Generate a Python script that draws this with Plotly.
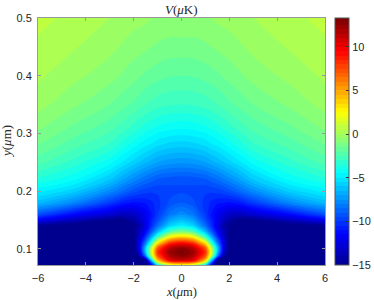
import plotly.graph_objects as go

# grid coordinates (micrometres)
x_um = [-6, -4.5, -3, -2.5, -2, -1.75, -1.5, -1.25, -1, -0.5, 0, 0.5, 1, 1.25, 1.5, 1.75, 2, 2.5, 3, 4.5, 6]
y_um = [0.072, 0.08, 0.088, 0.095, 0.102, 0.11, 0.12, 0.13, 0.14, 0.15, 0.16,
        0.18, 0.2, 0.22, 0.25, 0.28, 0.31, 0.35, 0.4, 0.45, 0.5]

# potential V (uK), one row per y value
V_y0072 = [-18, -18, -18, -18, -18, -17, -16.5, -12, -5, 1, 2, 1, -5, -12, -16.5, -17, -18, -18, -18, -18, -18]
V_y0080 = [-18, -18, -18, -17.5, -17, -16.5, -15, -6, 4, 10, 11, 10, 4, -6, -15, -16.5, -17, -17.5, -18, -18, -18]
V_y0088 = [-18, -18, -17.5, -17, -16, -14, -8, 0.5, 7.5, 11.7, 12.8, 11.7, 7.5, 0.5, -8, -14, -16, -17, -17.5, -18, -18]
V_y0095 = [-18, -18, -17.5, -16.8, -16, -12.5, -6, 1.5, 8.3, 12.2, 13.3, 12.2, 8.3, 1.5, -6, -12.5, -16, -16.8, -17.5, -18, -18]
V_y0102 = [-18, -18, -17.5, -16.6, -15.5, -12, -6, 0.5, 7, 11.3, 12.5, 11.3, 7, 0.5, -6, -12, -15.5, -16.6, -17.5, -18, -18]
V_y0110 = [-18, -18, -17.5, -16.5, -15.2, -12.2, -8, -3, 3, 8.2, 9.5, 8.2, 3, -3, -8, -12.2, -15.2, -16.5, -17.5, -18, -18]
V_y0120 = [-18, -18, -17.5, -16.5, -15.1, -13, -10, -6.5, -2.5, 2.8, 4.0, 2.8, -2.5, -6.5, -10, -13, -15.1, -16.5, -17.5, -18, -18]
V_y0130 = [-17, -17, -17, -16.5, -15.0, -13.5, -11.5, -9, -6.5, -2.5, -1.3, -2.5, -6.5, -9, -11.5, -13.5, -15.0, -16.5, -17, -17, -17]
V_y0140 = [-15.0, -15.8, -16.3, -16, -15.0, -14, -12.3, -10.3, -8.5, -5.7, -4.8, -5.7, -8.5, -10.3, -12.3, -14, -15.0, -16, -16.3, -15.8, -15.0]
V_y0150 = [-11.8, -13.5, -15.0, -15.2, -14.3, -13.3, -12.0, -10.7, -9.5, -7.1, -6.3, -7.1, -9.5, -10.7, -12.0, -13.3, -14.3, -15.2, -15.0, -13.5, -11.8]
V_y0160 = [-9.3, -11.3, -12.8, -13.4, -13.2, -12.6, -11.9, -11.0, -10.0, -8.3, -7.6, -8.3, -10.0, -11.0, -11.9, -12.6, -13.2, -13.4, -12.8, -11.3, -9.3]
V_y0180 = [-6.3, -7.8, -9.9, -10.7, -11.1, -11.0, -10.9, -10.6, -10.2, -9.4, -9.0, -9.4, -10.2, -10.6, -10.9, -11.0, -11.1, -10.7, -9.9, -7.8, -6.3]
V_y0200 = [-4.8, -5.8, -7.7, -8.5, -9.3, -9.6, -9.8, -9.9, -9.9, -9.7, -9.6, -9.7, -9.9, -9.9, -9.8, -9.6, -9.3, -8.5, -7.7, -5.8, -4.8]
V_y0220 = [-3.6, -4.4, -6.0, -6.9, -7.7, -8.1, -8.5, -8.8, -9.1, -9.3, -9.4, -9.3, -9.1, -8.8, -8.5, -8.1, -7.7, -6.9, -6.0, -4.4, -3.6]
V_y0250 = [-2.3, -3.2, -4.3, -5.0, -5.7, -6.05, -6.4, -6.7, -7.0, -7.3, -7.4, -7.3, -7.0, -6.7, -6.4, -6.05, -5.7, -5.0, -4.3, -3.2, -2.3]
V_y0280 = [-1.5, -2.3, -3.1, -3.7, -4.3, -4.6, -4.9, -5.1, -5.4, -5.7, -5.8, -5.7, -5.4, -5.1, -4.9, -4.6, -4.3, -3.7, -3.1, -2.3, -1.5]
V_y0310 = [-0.9, -1.6, -2.3, -2.7, -3.2, -3.45, -3.7, -3.9, -4.1, -4.3, -4.4, -4.3, -4.1, -3.9, -3.7, -3.45, -3.2, -2.7, -2.3, -1.6, -0.9]
V_y0350 = [-0.3, -0.9, -1.5, -1.8, -2.1, -2.3, -2.5, -2.65, -2.8, -2.95, -3.0, -2.95, -2.8, -2.65, -2.5, -2.3, -2.1, -1.8, -1.5, -0.9, -0.3]
V_y0400 = [0.1, -0.35, -0.8, -1.05, -1.3, -1.45, -1.6, -1.7, -1.8, -1.95, -2.0, -1.95, -1.8, -1.7, -1.6, -1.45, -1.3, -1.05, -0.8, -0.35, 0.1]
V_y0450 = [0.4, 0.05, -0.35, -0.55, -0.75, -0.8, -0.9, -1.0, -1.1, -1.2, -1.2, -1.2, -1.1, -1.0, -0.9, -0.8, -0.75, -0.55, -0.35, 0.05, 0.4]
V_y0500 = [0.65, 0.35, 0.0, -0.15, -0.3, -0.35, -0.4, -0.5, -0.5, -0.6, -0.6, -0.6, -0.5, -0.5, -0.4, -0.35, -0.3, -0.15, 0.0, 0.35, 0.65]

V_rows = [V_y0072, V_y0080, V_y0088, V_y0095, V_y0102, V_y0110, V_y0120, V_y0130,
          V_y0140, V_y0150, V_y0160, V_y0180, V_y0200, V_y0220, V_y0250, V_y0280,
          V_y0310, V_y0350, V_y0400, V_y0450, V_y0500]

x_ticks = [-6, -4, -2, 0, 2, 4, 6]
y_ticks = [0.1, 0.2, 0.3, 0.4, 0.5]
cbar_ticks = [-15, -10, -5, 0, 5, 10]
v_min, v_max = -15, 13.3

jet = [[0.0, "rgb(0,0,143)"], [0.125, "rgb(0,0,255)"], [0.375, "rgb(0,255,255)"],
       [0.625, "rgb(255,255,0)"], [0.875, "rgb(255,0,0)"], [1.0, "rgb(128,0,0)"]]

tickfont = dict(family="Liberation Sans, Arial, sans-serif", size=11, color="#262626")
serif = dict(family="Liberation Serif, Times New Roman, serif", size=13, color="#262626")

fig = go.Figure(go.Contour(
    x=x_um, y=y_um, z=V_rows,
    colorscale=jet, zmin=v_min, zmax=v_max, zauto=False,
    autocontour=False,
    contours=dict(start=-15, end=13.5, size=0.5, coloring="fill", showlines=False),
    line=dict(width=0, smoothing=1.0),
    hoverinfo="skip",
    colorbar=dict(
        thickness=14, len=1, lenmode="fraction", y=0.5, yanchor="middle",
        x=1.035, xanchor="left", xpad=0, ypad=0,
        tickvals=cbar_ticks, ticks="inside", ticklen=3, tickcolor="#333",
        tickfont=tickfont, outlinewidth=1, outlinecolor="#555",
    ),
))

axis_common = dict(showline=True, linecolor="#999", linewidth=1, mirror="ticks",
                   ticks="inside", ticklen=3, tickcolor="#999", showgrid=False,
                   zeroline=False, tickfont=tickfont)

fig.update_layout(
    width=374, height=300,
    margin=dict(l=38, r=49, t=18, b=35, autoexpand=False),
    paper_bgcolor="white", plot_bgcolor="white",
    showlegend=False,
    xaxis=dict(range=[-6, 6], tickvals=x_ticks, ticklabelstandoff=3, **axis_common),
    yaxis=dict(range=[0.072, 0.5], tickvals=y_ticks, ticklabelstandoff=3, **axis_common),
    annotations=[
        dict(text="<i>V</i>(<i>μ</i>K)", xref="paper", yref="paper", x=0.5, y=1,
             xanchor="center", yanchor="bottom", yshift=-1, showarrow=False, font=serif),
        dict(text="<i>x</i>(<i>μ</i>m)", xref="paper", yref="paper", x=0.5, y=0,
             xanchor="center", yanchor="top", yshift=-18, showarrow=False,
             font=dict(serif, size=12.5)),
        dict(text="<i>y</i>(<i>μ</i>m)", xref="paper", yref="paper", x=0, y=0.5,
             xanchor="right", yanchor="middle", xshift=-22, textangle=-90,
             showarrow=False, font=serif),
    ],
)

fig.write_html("out.html", config={"displayModeBar": False, "staticPlot": True},
               post_script="document.body.style.margin='0';document.body.style.padding='0';")
